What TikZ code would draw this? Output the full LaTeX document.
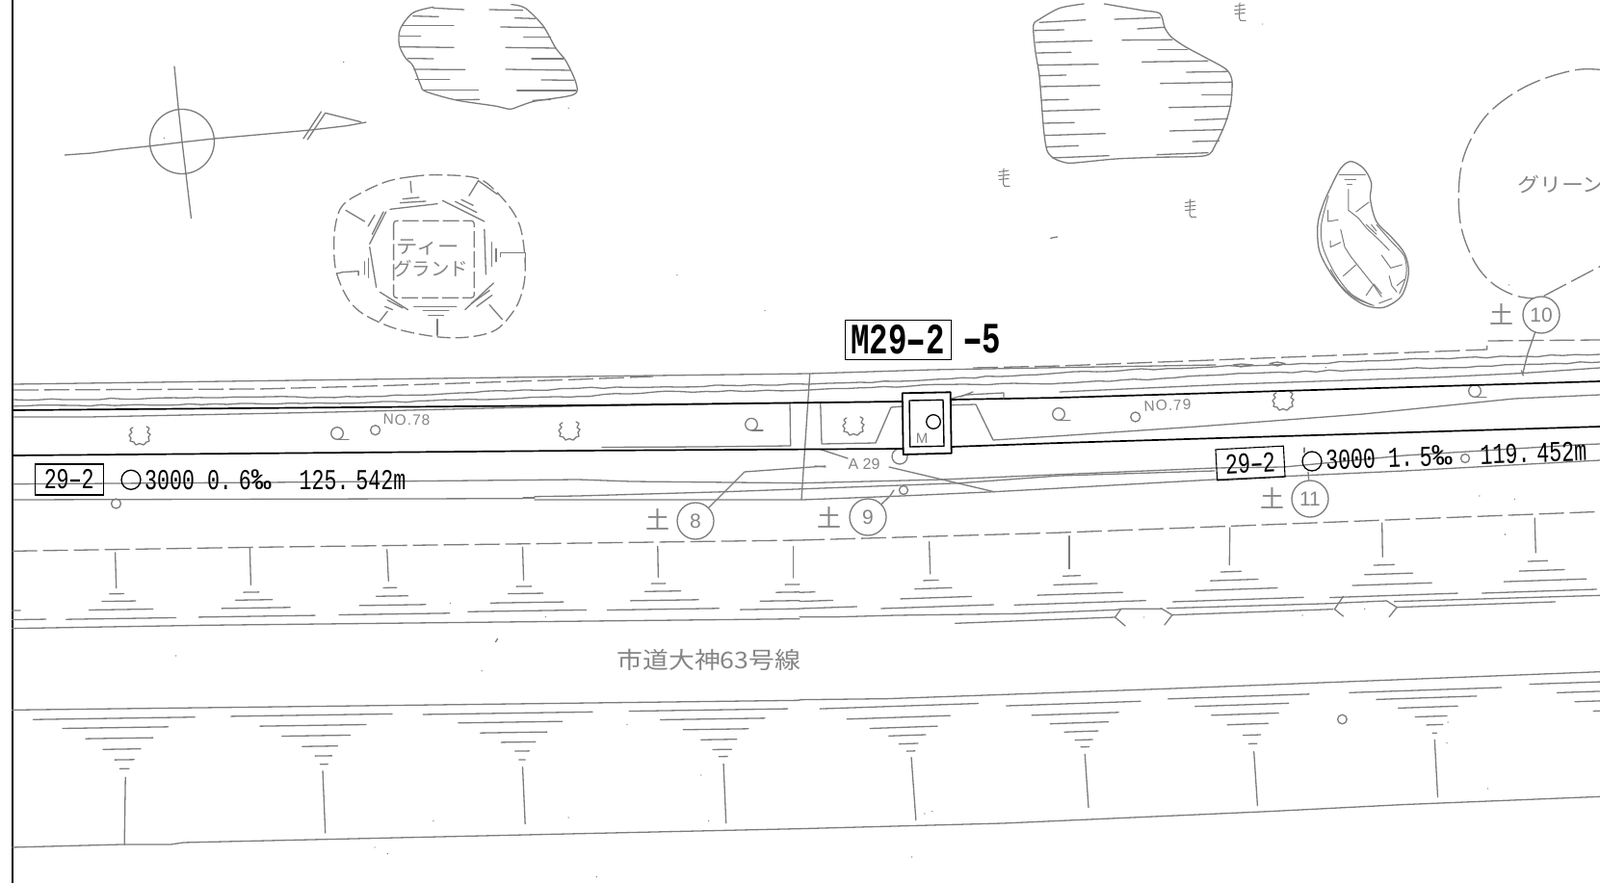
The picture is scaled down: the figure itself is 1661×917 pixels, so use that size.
\documentclass[tikz,border=0pt]{standalone}
\usepackage{fontspec}
\setmainfont{Liberation Sans}
\newfontfamily\gothic[FakeStretch=.72]{Liberation Mono}
\newfontfamily\cjk{Noto Sans CJK JP}
\newfontfamily\cjkwide[FakeStretch=1.12]{Noto Sans CJK JP}
\newcommand{\fsz}[1]{\fontsize{#1}{#1}\selectfont}
\newcommand{\lhy}{\makebox[.432em][c]{\scalebox{1.7}[1]{-}}}
\newcommand{\wdpm}{\scalebox{1.6}[1]{‰}}
\newcommand{\dotgap}{.\hspace{7pt}}
\usetikzlibrary{decorations.pathmorphing}
\definecolor{linegray}{HTML}{7C7C7C}
\definecolor{textgray}{HTML}{858585}
\tikzset{
 ln/.style={draw=linegray,line width=1.3pt,line cap=round,line join=round},
 thinln/.style={draw=linegray,line width=1pt,line cap=round,line join=round},
 wob/.style={ln,decorate,decoration={random steps,segment length=13pt,amplitude=.9pt}},
 blk/.style={draw=black,line width=1.7pt,line join=round},
 dashA/.style={ln,line cap=butt,dash pattern=on 14pt off 5pt},
 dashB/.style={ln,line cap=butt,dash pattern=on 26pt off 6pt},
 zoneA/.style={x=.5293pt,y=-.3333pt},
 zoneB/.style={shift={(830pt,0pt)},x=.53pt,y=-.3333pt},
 zoneC/.style={shift={(0pt,-370pt)},x=.3827pt,y=-.3333pt},
 zoneD/.style={shift={(600pt,-320pt)},x=.3333pt,y=-.3333pt},
 zoneE/.style={shift={(1100pt,-300pt)},x=.3578pt,y=-.3333pt},
 zoneF/.style={shift={(0pt,-550pt)},x=.5293pt,y=-.3333pt},
 zoneG/.style={shift={(830pt,-550pt)},x=.53pt,y=-.3333pt},
 numc/.style={circle,ln,fill=white,minimum size=38pt,inner sep=0pt,text=textgray,font=\fsz{21}},
 soil/.style={text=textgray,font=\cjk\fsz{25},inner sep=0pt},
 gray label/.style={text=textgray,inner sep=0pt},
 bigtag/.style={draw=black,line width=1pt,inner sep=0pt,text=black,font=\gothic\bfseries\fsz{45}},
 tag/.style={draw=black,line width=1.1pt,inner sep=0pt,text=black,font=\gothic\fsz{30}},
 pipetext/.style={inner sep=0pt,text=black,font=\gothic\fsz{30}},
 treemark/.pic={
  \draw[thinln] (-5,-6.5)--(5,-8) (-5.5,-2.5)--(5.5,-3.5) (-5,1.5)--(5,.5);
  \draw[thinln] (0,-10)--(-.5,6)--(1,8.5)--(6,8.5);},
 valve/.pic={
  \draw[ln] (0,0) circle [radius=6.3pt];
  \draw[ln] (1,6.3)--(12,6.3);},
 bush/.pic={
  \draw[ln] plot[smooth,tension=.55] coordinates {(-7,-9)(-10,-7)(-8,-4)(-11,-1)(-9,2)(-10,5)(-6,6)(-4,9)(0,7.5)(4,9)(7,6)(10,5)(9,1)(11,-2)(8,-4)(10,-8)(7,-10)};},
}
\begin{document}
\begin{tikzpicture}[x=1pt,y=-1pt]
\useasboundingbox[fill=white] (0,0) rectangle (1661,917);

% ---- frame
\draw[blk] (13,0)--(13,917);

% ---- compass and upper-left features
\begin{scope}[zoneA]
 \draw[ln] (342,207)--(350,340)--(357,440)--(375,680);
 \draw[ln] (357,441) circle [radius=33.5pt];
 \draw[ln] (127,483)--(180,477)--(235,465)--(295,455)--(357,443)--(420,432)--(610,405)--(680,392)--(718,381);
 \draw[ln] (595,432)--(630,348);
 \draw[ln] (603,435)--(638,352)--(708,380);
 % blob 1
 \draw[ln] plot[smooth,tension=.5] coordinates {(850,22)(810,40)(785,90)(783,140)(795,180)(810,205)(825,265)(835,285)(895,312)(970,330)(1000,340)(1020,330)(1050,315)(1125,295)(1130,260)(1110,190)(1090,150)(1065,80)(1030,25)(1003,14)};
 \foreach \a/\b/\c/\d in {850/25/910/30,960/30/1025/32,810/50/860/52,1010/56/1050/58,790/80/890/80,982/84/1068/86,785/112/825/112,1027/116/1080/116,785/146/890/148,992/148/1090/150,800/182/850/183,1043/183/1105/183,812/216/912/217,992/216/1118/219,815/248/882/248,1062/249/1125/250,830/281/938/281,1014/282/1130/282,895/311/940/310,1045/313/1080/310}
  \draw[ln] (\a,\b)--(\c,\d);
 % tee ground
 \draw[dashA] plot[smooth cycle,tension=.6] coordinates {(860,545)(810,550)(760,565)(710,600)(672,640)(658,700)(655,780)(660,850)(680,925)(705,970)(745,1005)(790,1030)(860,1050)(920,1050)(970,1030)(1000,985)(1020,930)(1030,850)(1025,740)(1010,670)(975,600)(935,555)};
 \foreach \a/\b/\c/\d in {765/652/858/635,868/625/950/690,950/715/953/855,968/882/912/965,895/955/812/955,800/965/745/910,738/895/725/770,725/760/757/660,805/565/807/600,790/620/822/615,785/632/835/627,905/622/928/640,893/628/935/662,678/655/715/690,722/705/735/670,730/730/752/660,965/755/965/830,973/775/973/815,715/815/715/855,722/805/722/865,858/1045/858/995,840/982/870/982,830/968/880/968,745/1000/760/970,755/955/770/965,760/935/790/960,925/945/960/905,935/955/965/920,960/950/985/995}
  \draw[ln] (\a,\b)--(\c,\d);
 \draw[ln] (920,610)--(938,563)--(975,605);
 \draw[ln] (982,800)--(982,788)--(1030,788)--(1030,830);
 \draw[ln] (662,852)--(672,848)--(703,845)--(703,858);
 \draw[ln,rounded corners=3pt,line cap=butt,dash pattern=on 17pt off 4pt] (772,688) rectangle (930,928);
 \foreach \p/\q in {674/193,1115/337,1328/857,1500/968,322/430}
  \fill[linegray] (\p,\q) circle (.7pt);
\end{scope}
\node[gray label,font=\cjkwide\fsz{20}] (teeA) at (444,257) {ティー};
\node[gray label,font=\cjk\fsz{19.5}] (teeB) at (447,279) {グランド};

% ---- blobs and green
\begin{scope}[zoneB]
 \draw[ln] plot[smooth,tension=.45] coordinates {(557,12)(510,25)(470,60)(458,80)(462,160)(470,240)(478,400)(485,470)(500,495)(525,508)(555,505)(620,495)(700,490)(795,485)(815,450)(835,380)(845,320)(847,250)(835,215)(790,175)(755,145)(728,115)(715,85)(706,42)(670,32)(597,12)};
 \foreach \a/\b/\c/\d in {470/70/560/62,460/95/518/93,463/132/573/127,465/165/532/163,468/203/585/200,470/236/522/234,472/270/588/266,474/312/527/310,476/346/588/341,478/384/538/382,480/422/599/416,484/458/546/454,495/492/606/485,617/60/706/55,662/90/715/85,632/125/730/124,702/155/760/155,671/193/800/190,758/225/838/223,707/260/847/256,788/296/847/296,724/335/845/331,774/374/838/370,725/408/830/404,770/441/822/439,700/482/800/476,492/742/505/738}
  \draw[ln] (\a,\b)--(\c,\d);
 % mound
 \draw[ln] plot[smooth cycle,tension=.55] coordinates {(1080,503)(1060,525)(1040,585)(1025,640)(1015,700)(1018,780)(1040,850)(1070,910)(1100,945)(1125,958)(1150,955)(1180,920)(1193,850)(1185,790)(1160,740)(1130,690)(1118,620)(1120,570)(1105,525)};
 \draw[thinln] plot[smooth,tension=.5] coordinates {(1036,610)(1022,700)(1025,770)(1048,850)(1080,915)(1120,950)};
 \draw[thinln] plot[smooth,tension=.5] coordinates {(1040,840)(1060,890)(1090,930)(1125,952)};
 \draw[thinln] plot[smooth,tension=.5] coordinates {(1130,700)(1155,745)(1185,800)(1188,860)(1175,915)};
 \foreach \a/\b/\c/\d in {1057/546/1108/546,1068/560/1090/560,1073/575/1082/575,1115/630/1090/660,1090/825/1065/860,1120/700/1130/720,1135/945/1160/930,1170/890/1185/870,1110/700/1130/730}
  \draw[thinln] (\a,\b)--(\c,\d);
 \draw[thinln] (1075,590)--(1075,655)--(1095,680)--(1110,710)--(1140,755)--(1155,780);
 \draw[thinln] (1035,655)--(1035,690)--(1055,685);
 \draw[thinln] (1060,715)--(1068,770)--(1080,800)--(1110,860)--(1125,890)--(1140,925);
 \draw[thinln] (1040,750)--(1040,770)--(1060,755);
 \draw[thinln] (1140,795)--(1158,835)--(1180,825);
 \draw[thinln] (1110,920)--(1125,885)--(1140,915);
 \draw[thinln] (1155,860)--(1160,890)--(1170,910);
 % green boundary
 \draw[dashB] plot[smooth,tension=.6] coordinates {(1568,217)(1520,218)(1450,250)(1390,300)(1340,370)(1305,470)(1292,570)(1295,700)(1320,810)(1355,880)(1400,920)(1440,930)};
 \draw[dashB] plot[smooth,tension=.6] coordinates {(1458,922)(1520,870)(1568,830)};
 \foreach \p/\q in {907/75,1390/888}
  \fill[linegray] (\p,\q) circle (.7pt);
\end{scope}
\pic at (1287,13) {treemark};
\pic at (1042,185) {treemark};
\pic at (1235.5,217) {treemark};
\node[gray label,font=\cjkwide\fsz{20.5},anchor=west] (green) at (1575,192) {グリーン};

% ---- road band lines
\draw[ln] (14,399)--(600,391)--(840,388)--(967,384)--(1100,381.7)--(1262,379);
\draw[dashB] (14,405)--(268,404)--(383,401)--(600,394)--(678,391);
\draw[dashB] (1010,382)--(1100,380)--(1543.6,363)--(1543.6,354)--(1661,353);
\draw[ln] (1280,379)--(1288,381)--(1301,379) (1280,379)--(1288,378)--(1301,379);
\draw[ln] (1318,377.5)--(1326,380)--(1334,377.5) (1318,377.5)--(1326,376)--(1334,377.5);
\draw[wob] (14,415)--(76.5,415)--(191,413.3)--(383,411.7)--(478,408)--(600,403.3)--(840,399)--(933,396)--(1100,387.3)--(1172,384)--(1261,381)--(1479,372.7)--(1661,368);
\draw[wob] (14,421.7)--(80,421)--(383,418)--(600,411.7)--(680,407)--(840,405)--(1000,399)--(1100,398)--(1207,393)--(1315,387)--(1458,383)--(1661,376);
\draw[ln] (14,433)--(92,433)--(344,428)--(600,421.7)--(930,417);
\draw[ln] (1100,407)--(1279,399)--(1494,391.7)--(1581,387.5)--(1661,382);

% ---- structures between the main lines
\draw[ln] (820,418)--(820.7,463)--(733,464)--(625,464.5);
\draw[ln] (851.7,418)--(853,461)--(909,460)--(925,423)--(937,422);
\draw[ln] (987,420.7)--(1013,420)--(1031,457)--(1100,452.7)--(1243,443)--(1415,430)--(1572,414)--(1661,410);
\draw[ln] (840.7,388)--(832,519);

% ---- the lines beneath
\draw[ln] (14,502.7)--(318,500.7)--(600,498)--(655,500)--(833,501.7)--(978,498)--(1100,492.7)--(1261,486)--(1333,485)--(1458,473)--(1637,462)--(1661,461);
\draw[ln] (14,519)--(543,517.7) (555,515.7)--(600,515)--(753,510.7)--(997,501.7)--(1100,494)--(1261,489);
\draw[ln] (555,519)--(600,519)--(833,519)--(937,515)--(1032,510.7)--(1100,507)--(1261,498)--(1458,489)--(1661,478);
\draw[ln] (543,517)--(555,517);
\draw[ln] (923,485)--(1032,510.7);
\draw[ln] (851.7,466.7)--(880,476);
\draw[ln] (1354,465)--(1354,470);

% ---- small marks
\draw[ln] (934,474) circle [radius=8pt];
\draw[ln] (389.6,446.7) circle [radius=5pt];
\draw[ln] (1178.7,433) circle [radius=5pt];
\draw[ln] (120.5,523) circle [radius=5pt];
\draw[ln] (1521,476) circle [radius=4.5pt];
\draw[ln] (938,509) circle [radius=4.5pt];
\draw[ln] (1393.4,747) circle [radius=4.8pt];
\pic at (350,450) {valve};
\pic at (780,440.7) {valve};
\pic at (1099,430) {valve};
\pic at (1531,406) {valve};
\pic at (145,453) {bush};
\pic at (591,448) {bush};
\pic at (886,443) {bush};
\pic at (1332,417) {bush};

% ---- main sewer
\draw[blk] (14,426)--(600,421)--(937,417);
\draw[blk] (987,415)--(1100,413)--(1661,396);
\draw[blk] (14,473)--(600,468)--(937,466);
\draw[blk] (988,464)--(1100,460)--(1661,443);

% ---- manhole
\draw[ln] (987,414)--(1003,410)--(1042,408)--(1042,414);
\draw[ln] (997,412)--(1010,407);
\draw[blk,line width=1.8pt,fill=white] (936.7,408.3)--(986.7,407.3)--(987.7,470.7)--(937.7,472)--cycle;
\draw[blk,line width=1.4pt] (944,416)--(979,415.3)--(980,463.3)--(944.7,464)--cycle;
\draw[black,line width=1.3pt] (969,438) circle [radius=7.3pt];
\node[gray label,font=\fsz{15}] (mlabel) at (957,455) {M};

% ---- numbered circles
\node[numc] (c8) at (722,541) {8};
\node[numc] (c9) at (901,537) {9};
\node[numc] (c10) at (1600,327) {10};
\node[numc] (c11) at (1360,518) {11};
\node[soil] (s8) at (683,539) {土};
\node[soil] (s9) at (861,537) {土};
\node[soil] (s10) at (1559,326) {土};
\node[soil] (s11) at (1321,517) {土};
\coordinate (k8a) at (773,490);
\coordinate (k8b) at (857,484);
\coordinate (k9a) at (924,515);
\coordinate (k9b) at (928,509);
\coordinate (k10a) at (1586,367);
\coordinate (k10b) at (1581,387);
\coordinate (k11) at (1358,490);
\draw[ln] (c8)--(k8a)--(k8b);
\draw[ln] (846,484)--(857,485);
\draw[ln] (c9)--(k9a)--(k9b);
\draw[ln] (c10)--(k10a)--(k10b);
\draw[ln] (c11)--(k11);

% ---- labels
\node[bigtag,minimum width=110pt,minimum height=41pt] (mtag) at (932,352.5) {M29\lhy 2};
\node[inner sep=0pt,anchor=west,text=black,font=\gothic\bfseries\fsz{45}] (mnum) at (1000,352) {\lhy 5};
\node[tag,minimum width=71pt,minimum height=32pt] (pipeA) at (71.7,498) {29\lhy 2};
\draw[black,line width=1.3pt] (136,498.3) circle [radius=10pt];
\node[pipetext,anchor=west] (pipeAt) at (150,498.5) {3000 0\dotgap 6\wdpm\hspace{29pt}125\dotgap 542m};
\node[tag,minimum width=70.5pt,minimum height=32pt,rotate=3] (pipeB) at (1298,481) {29\lhy 2};
\draw[black,line width=1.3pt] (1362,479) circle [radius=10pt];
\node[pipetext,anchor=west,rotate=2] (pipeBt) at (1376,477.5) {3000 1\dotgap 5\wdpm\hspace{29pt}119\dotgap 452m};
\node[gray label,font=\fsz{15.5},rotate=-1] (no78) at (422,436) {N\hspace{1pt}O\hspace{1pt}.\hspace{1pt}7\hspace{1pt}8};
\node[gray label,font=\fsz{15.5},rotate=3] (no79) at (1212,421) {N\hspace{1pt}O\hspace{1pt}.\hspace{1pt}7\hspace{1pt}9};
\node[gray label,font=\fsz{16}] (a29) at (897,481.5) {A 29};
\node[gray label,font=\cjkwide\fsz{24}] (road) at (736,685) {市道大神63号線};

% ---- slope marks and lines, left part
\begin{scope}[zoneF]
 \draw[dashB] (24,67)--(500,55)--(1000,45)--(1568,33);
 \foreach \s/\t/\u/\v in {226/72/228/182,490/58/492/172,759/62/762/160,1025/55/1027/157,1290/52/1291/148,1556/52/1556/150}
  \draw[ln] (\s,\t)--(\u,\v);
 \foreach \y/\a/\b in {200/215/243,223/200/266,249/175/300,277/130/345,195/478/508,219/462/534,244/435/569,270/390/618,181/752/778,207/738/800,235/705/835,263/665/882,177/1013/1042,199/997/1065,227/962/1105,253/918/1150,168/1278/1305,192/1265/1335,220/1237/1370,248/1191/1410,171/1540/1568,195/1522/1568,222/1491/1568,248/1452/1568,280/24/90,252/24/40}
  {\pgfmathsetmacro\dd{(\b-\a)*.012}\draw[ln] (\a,{\y+\dd})--(\b,{\y-\dd});}
 \draw[ln] (24,308)--(400,298)--(1568,278);
 \draw[ln] (24,562)--(500,553)--(1568,532);
 \foreach \y/\a/\b in {588/65/382,617/123/330,650/168/300,684/202/276,717/225/263,745/235/253,578/453/769,610/510/718,642/553/687,675/593/662,705/618/651,731/628/643,572/830/1162,600/899/1103,632/942/1073,662/983/1050,690/1010/1038,717/1018/1030,562/1234/1545,590/1295/1500,622/1340/1468,654/1375/1445,685/1398/1435,707/1410/1427}
  {\pgfmathsetmacro\dd{(\b-\a)*.012}\draw[ln] (\a,{\y+\dd})--(\b,{\y-\dd});}
 \foreach \s/\t/\u/\v in {246/772/244/982,633/752/638/945,1025/740/1030/917,1419/730/1424/914}
  \draw[ln] (\s,\t)--(\u,\v);
 \draw[ln] (24,990)--(240,981)--(335,981)--(360,975)--(1060,950)--(1568,932);
 \foreach \p/\q in {345/393,945/440,883/229,1070/272,1230/607,1375/765,850/908,1115/897,1390/907,735/990,760/1010,1170/1082}
  \fill[linegray] (\p,\q) circle (.7pt);
 \draw[ln] (972,350)--(976,340);
\end{scope}

% ---- slope marks and lines, right part
\begin{scope}[zoneG]
 \draw[dashB] (0,33)--(500,10)--(830,-10)--(1568,-56);
 \foreach \s/\t/\u/\v in {254/38/256/138,528/20/528/122,843/-6/842/110,1141/-21/1142/85,1440/-36/1442/72}
  \draw[ln] (\s,\t)--(\u,\v);
 \foreach \y/\a/\b in {195/0/30,222/0/65,243/0/112,158/243/272,183/226/298,212/198/337,240/160/380,144/516/550,170/498/583,200/466/633,228/421/678,131/825/865,157/805/898,186/776/936,218/731/987,110/1125/1165,138/1107/1201,170/1083/1238,205/1039/1289,98/1427/1465,127/1410/1498,158/1380/1541,192/1337/1561}
  {\pgfmathsetmacro\dd{(\b-\a)*.027}\draw[ln] (\a,{\y+\dd})--(\b,{\y-\dd});}
 \draw[ln] (0,272)--(75,272)--(190,267)--(430,262)--(620,250)--(632,247)--(710,247);
 \draw[ln] (720,245)--(1045,230)--(1065,228)--(1150,222);
 \draw[ln] (1165,224)--(1568,205);
 \draw[ln] (305,292)--(618,273);
 \draw[ln] (730,266)--(1045,248);
 \draw[ln] (1170,242)--(1480,225);
 \draw[ln] (630,247)--(618,273)--(638,300);
 \draw[ln] (708,245)--(730,266)--(715,297);
 \draw[ln] (1065,208)--(1048,248)--(1065,270);
 \draw[ln] (1150,222)--(1170,242)--(1155,272);
 \draw[ln] (0,530)--(170,527)--(700,497)--(1568,443);
 \foreach \y/\a/\b in {550/40/350,585/93/295,616/138/270,641/175/247,667/195/232,690/210/226,542/405/668,574/455/625,602/491/605,629/519/585,655/540/574,677/551/567,520/722/998,546/775/958,575/807/938,606/838/918,640/869/903,667/880/896,500/1077/1375,524/1130/1326,553/1173/1289,582/1206/1268,608/1228/1260,634/1240/1248,478/1430/1568,506/1484/1568,535/1519/1568,565/1555/1568}
  {\pgfmathsetmacro\dd{(\b-\a)*.027}\draw[ln] (\a,{\y+\dd})--(\b,{\y-\dd});}
 \foreach \s/\t/\u/\v in {219/710/228/905,559/700/566/866,890/692/897/860,1244/655/1250/833}
  \draw[ln] (\s,\t)--(\u,\v);
 \draw[ln] (0,932)--(400,915)--(920,878)--(1180,857)--(1568,832);
 \foreach \p/\q in {675/273,985/267,1107/247,1382/15,1270/600,1268/665,1348/807,245/885,260/878,220/1020}
  \fill[linegray] (\p,\q) circle (.7pt);
\end{scope}

\begin{scope}[zoneE]
 \foreach \p/\q in {772/245,1218/645,1320/655,1292/765}
  \fill[linegray] (\p,\q) circle (.7pt);
 \draw[ln] (1340,255)--(1345,270);
\end{scope}
\end{tikzpicture}
\end{document}
